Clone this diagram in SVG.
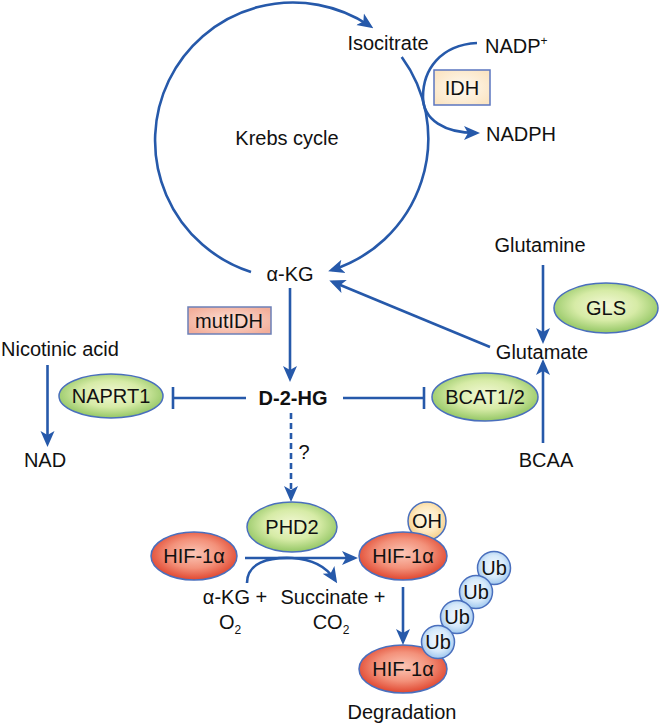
<svg xmlns="http://www.w3.org/2000/svg" width="660" height="724" viewBox="0 0 660 724">
<style>
text{font-family:"Liberation Sans",Arial,sans-serif;font-size:20px;fill:#111;text-anchor:middle}
.st{text-anchor:start}
.b{font-weight:bold}
.ln{fill:none;stroke:#2659aa;stroke-width:2.6}
.ar{marker-end:url(#ah)}
.dash{stroke-dasharray:6,4}
.node{stroke:#4a6fbd;stroke-width:1.5}
</style>
<defs>
<marker id="ah" markerUnits="userSpaceOnUse" markerWidth="16" markerHeight="16" viewBox="0 0 16 14" refX="12" refY="7" orient="auto">
<path d="M0,0 L16,7 L0,14 L4,7 z" fill="#2659aa"/>
</marker>
<radialGradient id="gG" cx="50%" cy="45%" r="55%"><stop offset="0" stop-color="#f3f8d6"/><stop offset="0.55" stop-color="#d6eba6"/><stop offset="1" stop-color="#93c664"/></radialGradient>
<radialGradient id="gR" cx="50%" cy="45%" r="55%"><stop offset="0" stop-color="#fbc6b6"/><stop offset="0.55" stop-color="#f3917a"/><stop offset="1" stop-color="#e0462f"/></radialGradient>
<radialGradient id="gB" cx="50%" cy="45%" r="55%"><stop offset="0" stop-color="#f5faff"/><stop offset="0.6" stop-color="#d6e9fa"/><stop offset="1" stop-color="#9fc7ee"/></radialGradient>
<radialGradient id="gY" cx="50%" cy="45%" r="55%"><stop offset="0" stop-color="#fffbec"/><stop offset="0.6" stop-color="#fde9c0"/><stop offset="1" stop-color="#f6ce86"/></radialGradient>
<radialGradient id="gIDH" cx="50%" cy="50%" r="60%"><stop offset="0" stop-color="#fffaf2"/><stop offset="1" stop-color="#fbe5c4"/></radialGradient>
<radialGradient id="gMut" cx="50%" cy="50%" r="60%"><stop offset="0" stop-color="#fce0d6"/><stop offset="1" stop-color="#f3ae9a"/></radialGradient>
</defs>

<g id="connectors">
<!-- Krebs cycle arcs -->
<path class="ln ar" d="M251,272 A138,138 0 1 1 370,26"/>
<path class="ln ar" d="M401.7,57 A138,138 0 0 1 332,270"/>
<!-- IDH curve -->
<path class="ln ar" d="M477,43 C440,45 423,70 423,97 C423,120 445,133 476,133"/>
<!-- alpha-KG to D-2-HG -->
<path class="ln ar" d="M290,288 L290,378"/>
<!-- inhibitions -->
<path class="ln" d="M246,398 L173,398 M173,387 L173,409"/>
<path class="ln" d="M343,398 L424,398 M424,387 L424,409"/>
<!-- nicotinic acid to NAD -->
<path class="ln ar" d="M47.5,365 L47.5,443"/>
<!-- dashed -->
<path class="ln ar dash" d="M291,413 L291,498"/>
<!-- glutamine to glutamate -->
<path class="ln ar" d="M543,265 L543,340"/>
<!-- glutamate to alpha-KG -->
<path class="ln ar" d="M490,347 L333,282"/>
<!-- BCAA to glutamate -->
<path class="ln ar" d="M543,443 L543,363"/>
<!-- HIF hydroxylation -->
<path class="ln ar" d="M245,558 L354,558"/>
<path class="ln ar" d="M247,583 C247,563 268,557 292,558 C312,559 326,566 335,580"/>
<!-- to degradation -->
<path class="ln ar" d="M403,587 L403,641"/>
</g>

<g id="isocitrate"><text x="388" y="50">Isocitrate</text></g>
<g id="nadp"><text class="st" x="485" y="53">NADP<tspan font-size="12" dy="-8">+</tspan></text></g>
<g id="nadph"><text class="st" x="486" y="141">NADPH</text></g>
<g id="idh"><rect x="434" y="70" width="56" height="35" fill="url(#gIDH)" stroke="#5b76c0" stroke-width="1.5"/><text x="462" y="95">IDH</text></g>
<g id="krebs"><text x="287" y="145">Krebs cycle</text></g>
<g id="akg"><text x="290" y="281">α-KG</text></g>
<g id="mutidh"><rect x="188" y="307" width="83" height="27" fill="url(#gMut)" stroke="#6c80b8" stroke-width="1.5"/><text x="229" y="328">mutIDH</text></g>
<g id="d2hg"><text class="b" x="293" y="405">D-2-HG</text></g>
<g id="naprt1"><ellipse class="node" cx="111" cy="396" rx="52" ry="22" fill="url(#gG)"/><text x="111" y="403">NAPRT1</text></g>
<g id="bcat"><ellipse class="node" cx="485" cy="397" rx="53" ry="24" fill="url(#gG)"/><text x="485" y="404">BCAT1/2</text></g>
<g id="nicotinic"><text class="st" x="1" y="356">Nicotinic acid</text></g>
<g id="nad"><text x="45" y="467">NAD</text></g>
<g id="question"><text x="304" y="459">?</text></g>
<g id="glutamine"><text x="540" y="252">Glutamine</text></g>
<g id="gls"><ellipse class="node" cx="606" cy="308" rx="52" ry="25" fill="url(#gG)"/><text x="606" y="315">GLS</text></g>
<g id="glutamate"><text x="542" y="359">Glutamate</text></g>
<g id="bcaa"><text x="546" y="467">BCAA</text></g>
<g id="phd2"><ellipse class="node" cx="292" cy="527" rx="45" ry="25" fill="url(#gG)"/><text x="292" y="534">PHD2</text></g>
<g id="hif1"><ellipse class="node" cx="194" cy="556" rx="43" ry="24" fill="url(#gR)"/><text x="194" y="563">HIF-1α</text></g>
<g id="hif2"><circle class="node" cx="427" cy="521" r="19" fill="url(#gY)"/><ellipse class="node" cx="403" cy="556" rx="44" ry="24" fill="url(#gR)"/><text x="403" y="563">HIF-1α</text><text x="427" y="528">OH</text></g>
<g id="hif3"><ellipse class="node" cx="403" cy="669" rx="44" ry="24" fill="url(#gR)"/><text x="403" y="676">HIF-1α</text>
<circle class="node" cx="494" cy="568" r="16.5" fill="url(#gB)"/><text x="494" y="575">Ub</text>
<circle class="node" cx="476" cy="592" r="16.5" fill="url(#gB)"/><text x="476" y="599">Ub</text>
<circle class="node" cx="457" cy="617" r="16.5" fill="url(#gB)"/><text x="457" y="624">Ub</text>
<circle class="node" cx="438" cy="642" r="16.5" fill="url(#gB)"/><text x="438" y="649">Ub</text></g>
<g id="akg2"><text x="235" y="604">α-KG +</text><text x="230" y="629">O<tspan font-size="12" dy="5">2</tspan></text></g>
<g id="succ"><text x="333" y="604">Succinate +</text><text x="331" y="629">CO<tspan font-size="12" dy="5">2</tspan></text></g>
<g id="degradation"><text x="402" y="719">Degradation</text></g>
</svg>
